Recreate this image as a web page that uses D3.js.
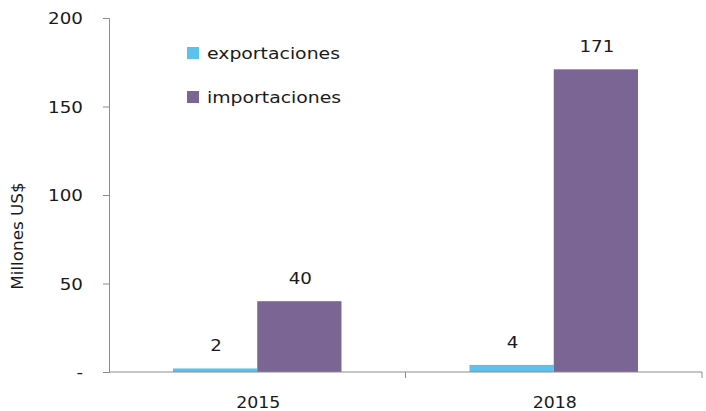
<!DOCTYPE html>
<html>
<head>
<meta charset="utf-8">
<script src="https://cdn.jsdelivr.net/npm/d3@7"></script>
<style>
  html, body { margin: 0; padding: 0; background: #fff; }
  svg text { font-family: "DejaVu Sans", Verdana, sans-serif; fill: #1a1a1a; font-size: 15px; }
</style>
</head>
<body>
<svg id="chart" width="706" height="411"></svg>
<script>
const categories = ["2015", "2018"];
const seriesNames = ["exportaciones", "importaciones"];
const exportaciones = [2, 4];
const importaciones = [40, 171];
const yTicks = [0, 50, 100, 150, 200];
const yTickLabels = ["-", "50", "100", "150", "200"];
const yTitle = "Millones US$";
const colors = ["#5DC1EC", "#7A6594"];

const SX = 1.22; // horizontal stretch of the reference's lettering

const svg = d3.select("#chart");
const margin = { left: 109, right: 4, top: 18, bottom: 39 };
const W = 706, H = 411;

const x0 = d3.scaleBand().domain(categories).range([margin.left, W - margin.right]).paddingInner(0).paddingOuter(0);
const x1 = d3.scaleBand().domain(seriesNames).range([0, x0.bandwidth()]).paddingOuter(0.76).paddingInner(0);
const y = d3.scaleLinear().domain([0, 200]).range([H - margin.bottom, margin.top]);

function placeText(sel, fx, fy, sx) {
  sel.attr("x", null).attr("y", null).attr("dy", null)
    .attr("transform", (d, i) => `translate(${fx(d, i)},${fy(d, i)}) scale(${sx},1)`);
}

const data = categories.map((c, i) => ({ cat: c, values: [exportaciones[i], importaciones[i]] }));

// bars
const groups = svg.append("g").selectAll("g").data(data).join("g")
  .attr("transform", d => `translate(${x0(d.cat)},0)`);
groups.selectAll("rect").data(d => d.values.map((v, k) => ({ name: seriesNames[k], v, k })))
  .join("rect")
  .attr("x", d => x1(d.name))
  .attr("width", x1.bandwidth())
  .attr("y", d => y(d.v))
  .attr("height", d => y(0) - y(d.v))
  .attr("fill", d => colors[d.k]);

// value labels
groups.selectAll("text.val").data(d => d.values.map((v, k) => ({ name: seriesNames[k], v, k })))
  .join("text").attr("class", "val")
  .attr("text-anchor", "middle")
  .text(d => d.v)
  .call(placeText, d => x1(d.name) + x1.bandwidth() / 2 + 1, d => y(d.v) - 17, SX);

// y axis
const yAxis = d3.axisLeft(y).tickValues(yTicks).tickSize(6)
  .tickFormat((d, i) => yTickLabels[i]);
const gy = svg.append("g").attr("transform", `translate(${margin.left},0)`).call(yAxis);
gy.select(".domain").attr("stroke", "#8c8c8c");
gy.selectAll(".tick line").attr("stroke", "#8c8c8c");
gy.selectAll(".tick text").attr("font-size", null).attr("font-family", null)
  .attr("text-anchor", "end")
  .call(placeText, () => -26, () => 5.5, SX);

// x axis
const gx = svg.append("g").attr("transform", `translate(0,${y(0)})`);
gx.append("line").attr("x1", margin.left).attr("x2", W - margin.right)
  .attr("stroke", "#8c8c8c");
const boundaries = categories.map(c => x0(c) + x0.bandwidth());
gx.selectAll("line.tk").data(boundaries).join("line").attr("class", "tk")
  .attr("x1", d => d).attr("x2", d => d).attr("y1", 0).attr("y2", 6).attr("stroke", "#8c8c8c");
gx.selectAll("text").data(categories).join("text")
  .attr("text-anchor", "middle")
  .text(d => d)
  .call(placeText, d => x0(d) + x0.bandwidth() / 2 + 1, () => 36, SX * 0.95);

// y title
svg.append("text")
  .attr("text-anchor", "middle")
  .attr("transform", `translate(23,236) rotate(-90) scale(1.12,1)`)
  .text(yTitle);

// legend
const legend = svg.append("g").attr("transform", "translate(187,47)");
const li = legend.selectAll("g").data(seriesNames).join("g")
  .attr("transform", (d, i) => `translate(0,${i * 44})`);
li.append("rect").attr("width", 12).attr("height", 12).attr("fill", (d, i) => colors[i]);
li.append("text")
  .text(d => d)
  .call(placeText, () => 20, () => 11.5, SX * 1.03);
</script>
</body>
</html>
